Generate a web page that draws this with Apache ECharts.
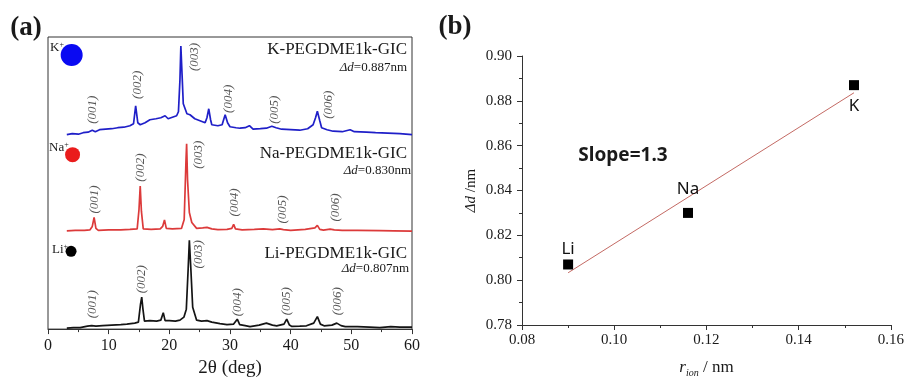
<!DOCTYPE html>
<html>
<head>
<meta charset="utf-8">
<script src="https://cdn.jsdelivr.net/npm/echarts@6/dist/echarts.min.js"></script>
<style>
  html, body { margin: 0; padding: 0; background: #fff; }
  #chart { width: 907px; height: 383px; }
</style>
</head>
<body>
<div id="chart"></div>
<script>
// (a) XRD patterns, [2theta, stacked intensity]
var kPattern = [[3.1,195],[4.0,196],[5.0,195.5],[5.8,197],[6.6,197.5],[7.3,199.5],[7.8,198],[8.5,200],[9.5,200.5],[10.5,201],[11.5,202],[12.5,202.5],[13.5,204],[14.1,206],[14.45,224],[14.8,207],[15.2,205],[16.0,207],[16.8,210],[17.8,211],[18.6,212],[19.3,214],[19.8,211],[20.5,212.5],[21.2,214],[21.5,218],[21.75,250],[21.9,284],[22.1,255],[22.3,226],[22.9,216],[23.4,215],[24.2,211],[25.05,209],[25.9,207],[26.2,212],[26.5,221],[26.8,210],[27.0,205],[28.0,204],[28.7,205],[29.2,215],[29.6,207],[30.0,203],[31.0,202],[31.65,201.5],[32.5,202],[33.2,204],[33.8,200.5],[35.0,201],[36.0,201.5],[36.9,203.5],[37.6,202],[38.5,200.5],[40.0,200],[41.5,199.5],[42.8,201],[43.7,205],[44.1,212],[44.4,218.5],[44.8,209],[45.1,202],[46.0,200],[47.0,198.5],[48.5,198],[49.8,200],[50.5,198],[52.5,197.5],[54.0,197],[56.0,196.5],[58.0,196],[60.0,195]];
var naPattern = [[3.1,98.5],[4.5,99],[6.0,99],[6.9,99.5],[7.3,103],[7.6,112],[7.9,101],[8.3,99],[10.0,99.5],[12.0,99.5],[13.5,100],[14.7,100.5],[15.0,120],[15.2,143.5],[15.4,118],[15.7,100.5],[17.0,100],[18.5,100.5],[18.9,103],[19.2,109.5],[19.5,101],[20.5,100.5],[22.0,101],[22.45,110],[22.75,170],[22.85,186],[23.0,150],[23.3,117],[23.7,107],[24.5,101],[25.5,101.5],[26.2,102],[27.0,100.5],[28.0,99.8],[29.5,100],[30.3,101],[30.6,105],[30.9,100.5],[32.0,99.5],[34.0,100],[35.5,100.5],[37.0,99.8],[38.2,100.5],[38.5,102.5],[38.8,99.8],[40.0,99],[42.4,100],[44.0,101.5],[44.4,104],[44.8,100],[45.4,99.3],[46.5,100.3],[46.8,101],[47.2,99.5],[48.5,99],[51.0,99],[54.7,98.7],[57.0,98.5],[60.0,98.3]];
var liPattern = [[3.1,1],[4.2,1.5],[5.3,1.5],[6.5,3],[7.2,3.5],[7.5,5.5],[7.9,3],[9.0,3.5],[10.5,4],[12.0,4.5],[13.0,5],[14.3,6],[14.9,7],[15.25,25],[15.45,32],[15.65,20],[15.9,8],[16.8,8.5],[17.9,8],[18.6,9],[19.0,16.5],[19.3,8.5],[20.0,8.5],[21.0,8],[21.75,9],[22.4,12],[22.8,20],[23.1,60],[23.3,89],[23.55,60],[23.85,22],[24.5,9],[25.3,8],[26.2,8.5],[27.0,7],[28.35,5.5],[29.5,4.5],[30.6,5],[31.2,10],[31.6,4.5],[32.5,3.5],[33.3,2.5],[34.8,4],[36.0,6],[37.0,4],[37.7,3.3],[38.9,5],[39.35,10],[39.8,4],[40.2,2.7],[41.5,3],[42.6,3.3],[43.8,6],[44.4,12.5],[44.9,5],[45.5,3.3],[46.8,4],[47.6,6],[48.3,3.5],[49.0,2.5],[51.0,2.5],[53.0,2],[54.7,1.5],[56.5,2.5],[58.0,2],[60.0,2]];
var peakNames = ['(001)', '(002)', '(003)', '(004)', '(005)', '(006)'];
var sampleNames = ['K-PEGDME1k-GIC', 'Na-PEGDME1k-GIC', 'Li-PEGDME1k-GIC'];
var sampleDd = ['0.887', '0.830', '0.807'];
var xTicksA = [0, 60, 10];

// (b) interlayer expansion vs ion radius
var ionNames = ['Li', 'Na', 'K'];
var ionRadius = [0.090, 0.116, 0.152];
var deltaD = [0.807, 0.830, 0.887];
var fitLine = [[0.090, 0.8033], [0.152, 0.8836]];
var slopeText = 'Slope=1.3';

var serif = '"Liberation Serif", "Times New Roman", serif';
var sans = '"Noto Sans", "Open Sans", sans-serif';
var ink = '#1a1a1a';

// where the rotated hkl labels sit, in (a) data units
var peakAnchors = {
  K:  [[7.4,220],[14.8,245],[24.2,273],[29.7,231],[37.3,220],[46.2,225]],
  Na: [[7.75,130],[15.3,162],[24.9,175],[30.8,127],[38.7,120],[47.4,122]],
  Li: [[7.4,25],[15.45,50],[24.9,75],[31.3,27],[39.4,28],[47.75,28]]
};

function peakLabelSeries(anchors) {
  return {
    type: 'scatter', xAxisIndex: 0, yAxisIndex: 0, symbolSize: 0, silent: true,
    data: anchors.map(function(p, i) { return { name: peakNames[i], value: p }; }),
    label: {
      show: true, position: 'inside', rotate: 90, formatter: '{b}',
      fontFamily: serif, fontStyle: 'italic', fontSize: 13, color: '#2a2a2a'
    }
  };
}

function lineSeries(data, color) {
  return {
    type: 'line', xAxisIndex: 0, yAxisIndex: 0, data: data, showSymbol: false,
    smooth: false, silent: true, lineStyle: { color: color, width: 1.7 }
  };
}

function txt(x, y, text, font, align, extra) {
  var st = { text: text, x: x, y: y, font: font, fill: ink,
    textAlign: align || 'center', align: align || 'center',
    textVerticalAlign: 'middle', verticalAlign: 'middle' };
  if (extra) for (var k in extra) st[k] = extra[k];
  return { type: 'text', z: 100, style: st };
}

var ddRich = { i: { fontFamily: serif, fontStyle: 'italic', fontSize: 13, fill: ink, color: ink } };
var supRich = { sup: { fontFamily: serif, fontSize: 8, verticalAlign: 'top', fill: ink, color: ink, padding: [0, 0, 6, 0] } };

var chart = echarts.init(document.getElementById('chart'));
var option = {
  animation: false,
  backgroundColor: '#fff',
  grid: [
    { left: 48, top: 37, width: 364, height: 293, show: true, borderColor: '#333', borderWidth: 1 },
    { left: 522, top: 56, width: 371, height: 273 }
  ],
  xAxis: [
    {
      gridIndex: 0, type: 'value', min: xTicksA[0], max: xTicksA[1], interval: xTicksA[2],
      name: '2θ (deg)', nameLocation: 'middle', nameGap: 29,
      nameTextStyle: { fontFamily: serif, fontSize: 19, color: ink },
      axisLine: { lineStyle: { color: '#333', width: 1 } },
      axisTick: { length: 5, lineStyle: { color: '#333' } },
      minorTick: { show: true, splitNumber: 2, length: 3, lineStyle: { color: '#333' } },
      splitLine: { show: false },
      axisLabel: { fontFamily: serif, fontSize: 16, color: ink, margin: 9 }
    },
    {
      gridIndex: 1, type: 'value', min: 0.08, max: 0.16, interval: 0.02,
      name: '{i|r}{s|ion} / nm', nameLocation: 'middle', nameGap: 33,
      nameTextStyle: {
        fontFamily: serif, fontSize: 17, color: ink,
        rich: {
          i: { fontFamily: serif, fontStyle: 'italic', fontSize: 17, color: ink },
          s: { fontFamily: serif, fontStyle: 'italic', fontSize: 10, color: ink, padding: [10, 0, 0, 0] }
        }
      },
      axisLine: { lineStyle: { color: '#333', width: 1 } },
      axisTick: { length: 5, lineStyle: { color: '#333' } },
      minorTick: { show: true, splitNumber: 2, length: 3, lineStyle: { color: '#333' } },
      splitLine: { show: false },
      axisLabel: { fontFamily: serif, fontSize: 15, color: ink, margin: 8,
        formatter: function(v) { return v.toFixed(2); } }
    }
  ],
  yAxis: [
    { gridIndex: 0, type: 'value', min: 0, max: 293, show: false },
    {
      gridIndex: 1, type: 'value', min: 0.78, max: 0.90, interval: 0.02,
      name: '{i|Δd} /nm', nameLocation: 'middle', nameGap: 43, nameRotate: 90,
      nameTextStyle: {
        fontFamily: serif, fontSize: 15, color: ink,
        rich: { i: { fontFamily: serif, fontStyle: 'italic', fontSize: 15, color: ink } }
      },
      axisLine: { show: true, lineStyle: { color: '#333', width: 1 } },
      axisTick: { length: 5, lineStyle: { color: '#333' } },
      minorTick: { show: true, splitNumber: 2, length: 3, lineStyle: { color: '#333' } },
      splitLine: { show: false },
      axisLabel: { fontFamily: serif, fontSize: 15, color: ink, margin: 10,
        formatter: function(v) { return v.toFixed(2); } }
    }
  ],
  series: [
    lineSeries(kPattern, '#1f1fc8'),
    lineSeries(naPattern, '#dc3a3a'),
    lineSeries(liPattern, '#141414'),
    peakLabelSeries(peakAnchors.K),
    peakLabelSeries(peakAnchors.Na),
    peakLabelSeries(peakAnchors.Li),
    {
      // ion markers in (a)
      type: 'scatter', xAxisIndex: 0, yAxisIndex: 0, silent: true,
      itemStyle: { opacity: 1 },
      data: [
        { value: [3.9, 275], symbolSize: 22, itemStyle: { color: '#0a0af2', opacity: 1 } },
        { value: [4.05, 175], symbolSize: 15, itemStyle: { color: '#ea1c1c', opacity: 1 } },
        { value: [3.8, 78], symbolSize: 11, itemStyle: { color: '#000', opacity: 1 } }
      ]
    },
    {
      type: 'line', xAxisIndex: 1, yAxisIndex: 1, data: fitLine, showSymbol: false,
      silent: true, lineStyle: { color: '#c46a64', width: 1 }, z: 2
    },
    {
      type: 'scatter', xAxisIndex: 1, yAxisIndex: 1, symbol: 'rect', symbolSize: 10,
      itemStyle: { color: '#000', opacity: 1 }, z: 3, silent: true,
      data: ionRadius.map(function(r, i) {
        var below = ionNames[i] === 'K';
        return {
          name: ionNames[i], value: [r, deltaD[i]],
          label: {
            position: below ? 'bottom' : 'top',
            distance: below ? 8 : (ionNames[i] === 'Na' ? 10 : 2)
          }
        };
      }),
      label: { show: true, formatter: '{b}', fontFamily: sans, fontSize: 17, color: '#111' }
    }
  ],
  graphic: [
    txt(26, 28, '(a)', 'bold 27px ' + serif),
    txt(455, 27, '(b)', 'bold 27px ' + serif),
    txt(407, 50, sampleNames[0], '17px ' + serif, 'right'),
    txt(407, 68, '{i|Δd}=' + sampleDd[0] + 'nm', '13px ' + serif, 'right', { rich: ddRich }),
    txt(407, 154, sampleNames[1], '17px ' + serif, 'right'),
    txt(411, 171, '{i|Δd}=' + sampleDd[1] + 'nm', '13px ' + serif, 'right', { rich: ddRich }),
    txt(407, 254, sampleNames[2], '17px ' + serif, 'right'),
    txt(409, 269, '{i|Δd}=' + sampleDd[2] + 'nm', '13px ' + serif, 'right', { rich: ddRich }),
    txt(50, 48, 'K{sup|+}', '13px ' + serif, 'left', { rich: supRich }),
    txt(49, 148, 'Na{sup|+}', '13px ' + serif, 'left', { rich: supRich }),
    txt(52, 250, 'Li{sup|+}', '13px ' + serif, 'left', { rich: supRich }),
    txt(623, 156, slopeText, 'bold 19px ' + sans)
  ]
};
chart.setOption(option);
</script>
</body>
</html>
